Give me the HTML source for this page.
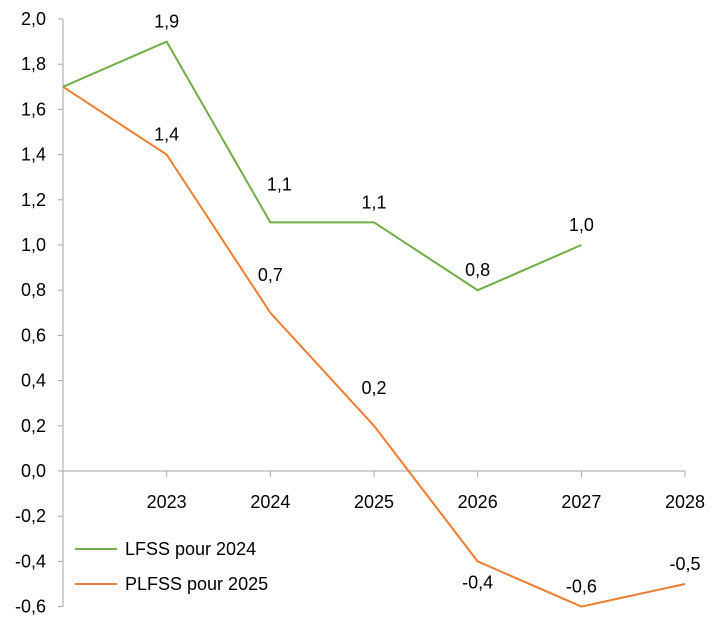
<!DOCTYPE html>
<html><head><meta charset="utf-8"><style>
html,body{margin:0;padding:0;background:#fff;}
svg{display:block;font-family:"Liberation Sans",sans-serif;}
</style></head><body>
<svg id="chart" width="719" height="624"></svg>
<script>
const categories=["2022","2023","2024","2025","2026","2027","2028"];
const lfss=[1.7,1.9,1.1,1.1,0.8,1.0];
const plfss=[1.7,1.4,0.7,0.2,-0.4,-0.6,-0.5];
const lfssLabelPos=["none","a","a2","a","a","a"];
const plfssLabelPos=["none","a","a2","a2","b","a","a"];
const yTicks=[2.0,1.8,1.6,1.4,1.2,1.0,0.8,0.6,0.4,0.2,0.0,-0.2,-0.4,-0.6];
const NS="http://www.w3.org/2000/svg";
const svg=document.getElementById('chart');
const x0=63,step=103.67;
const xs=i=>x0+i*step;
const ys=v=>471-v*226;
const fmt=v=>v.toFixed(1).replace('.',',').replace('-0,0','0,0');
function mk(t,a,p){const e=document.createElementNS(NS,t);for(const k in a)e.setAttribute(k,a[k]);(p||svg).appendChild(e);return e;}
let ax=mk('line',{x1:x0,y1:ys(2),x2:x0,y2:ys(-0.6),stroke:'#a6a6a6','stroke-width':1});


let xax=mk('line',{x1:x0,y1:ys(0),x2:xs(6),y2:ys(0),stroke:'#a6a6a6','stroke-width':1});


yTicks.forEach(v=>{
 const tk=mk('line',{x1:x0-5,y1:ys(v),x2:x0,y2:ys(v),stroke:'#a6a6a6'});
 
 
 const t=mk('text',{x:46,y:ys(v)+6,'text-anchor':'end','font-size':18,fill:'#000'});
 t.textContent=fmt(v);
 
 
});
categories.forEach((c,i)=>{
 if(i===0)return;
 const tk=mk('line',{x1:xs(i),y1:ys(0),x2:xs(i),y2:ys(0)+6,stroke:'#a6a6a6'});
 
 
 const t=mk('text',{x:xs(i),y:ys(0)+37,'text-anchor':'middle','font-size':18,fill:'#000'});
 t.textContent=c;
 
 
});
function series(vals,pos,color,name){
 const p=mk('polyline',{points:vals.map((v,i)=>xs(i)+','+ys(v)).join(' '),fill:'none',stroke:color,'stroke-width':2});
 
 
 vals.forEach((v,i)=>{
  if(pos[i]==='none')return;
  const dy=pos[i]==='a'?-14:pos[i]==='a2'?-32:27;
  const dx=pos[i]==='a2'&&name==='lfss-2024'?9:0;
  const t=mk('text',{x:xs(i)+dx,y:ys(v)+dy,'text-anchor':'middle','font-size':18,fill:'#000'});
  t.textContent=fmt(v);
  
  
 });
}
series(lfss,lfssLabelPos,'#70ad47','lfss-2024');
series(plfss,plfssLabelPos,'#ed7d31','plfss-2025');
[['LFSS pour 2024','#70ad47',549],['PLFSS pour 2025','#ed7d31',584]].forEach(([lab,c,y])=>{
 const g=mk('g',{});
 
 
 mk('line',{x1:75,y1:y,x2:117,y2:y,stroke:c,'stroke-width':2},g);
 const t=mk('text',{x:125,y:y+6,'font-size':18,fill:'#000'},g);
 t.textContent=lab;
});
</script>
</body></html>
